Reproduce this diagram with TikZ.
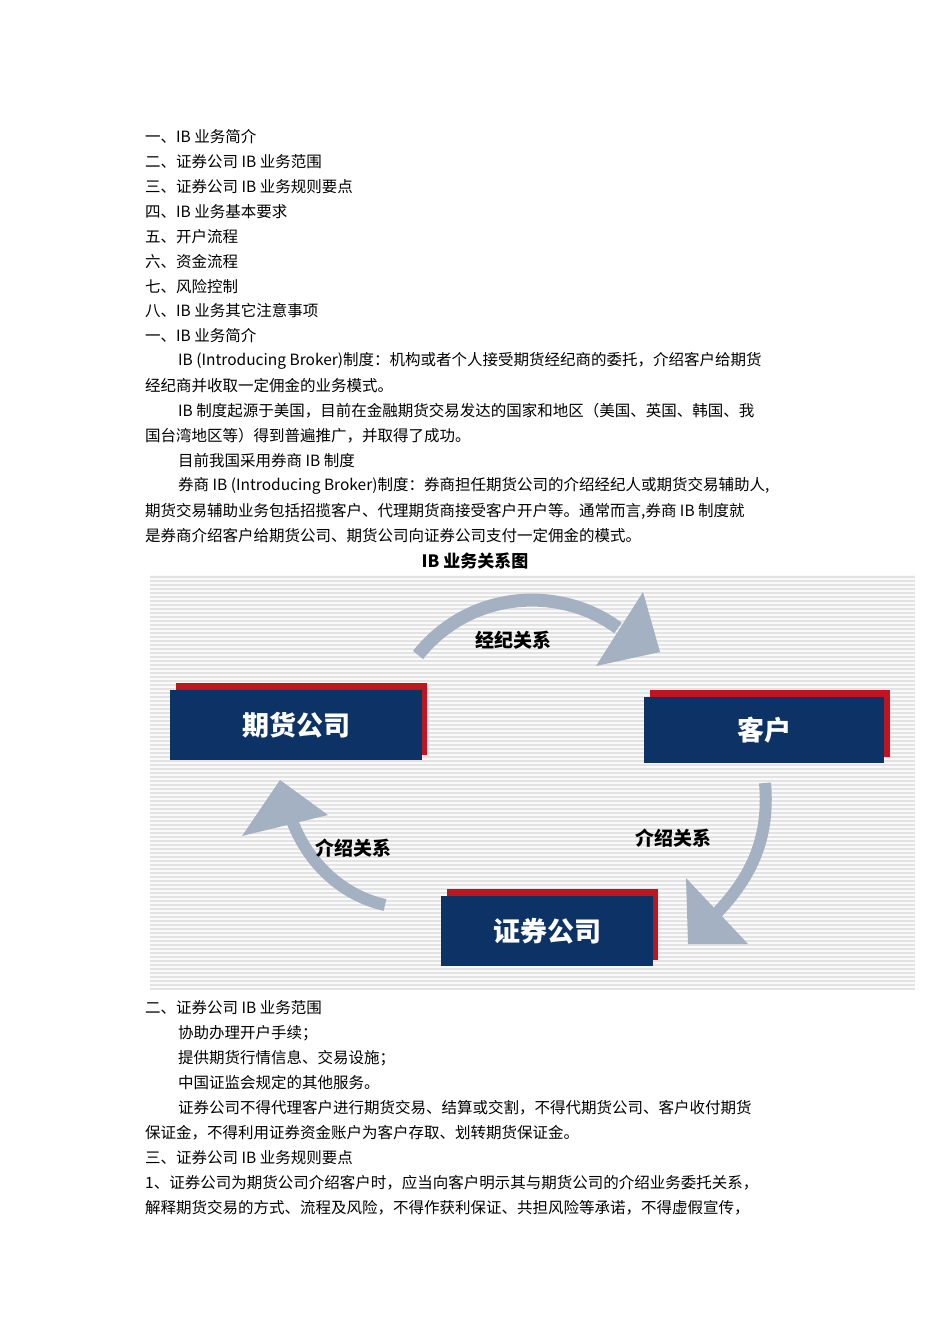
\documentclass[tikz,border=0pt]{standalone}
\usepackage{fontspec}
\setmainfont{Noto Sans CJK SC}
\newfontfamily\cjkb{Noto Sans CJK SC}[BoldFont=* Bold]
\definecolor{navy}{HTML}{0D3366}
\definecolor{rd}{HTML}{C0141E}
\definecolor{arr}{HTML}{A3B1C2}
\begin{document}
\begin{tikzpicture}[x=1pt,y=-1pt,
  ln/.style={anchor=west,inner sep=0pt,font=\fontsize{15.5}{16}\selectfont},
  box/.style={fill=navy,inner sep=0pt},
  lab/.style={font=\fontsize{19}{20}\selectfont\bfseries},
  blab/.style={font=\fontsize{27}{28}\selectfont\bfseries,text=white}]
\useasboundingbox (0,0) rectangle (950,1344);
\fill[white] (0,0) rectangle (950,1344);
% text top
\foreach \y/\x/\t in {137/145/{一、IB 业务简介},162/145/{二、证券公司 IB 业务范围},187/145/{三、证券公司 IB 业务规则要点},212/145/{四、IB 业务基本要求},237/145/{五、开户流程},262/145/{六、资金流程},287/145/{七、风险控制},311/145/{八、IB 业务其它注意事项},336/145/{一、IB 业务简介},361/178/{IB (Introducing Broker)制度：机构或者个人接受期货经纪商的委托，介绍客户给期货},386/145/{经纪商并收取一定佣金的业务模式。},411/178/{IB 制度起源于美国，目前在金融期货交易发达的国家和地区（美国、英国、韩国、我},436/145/{国台湾地区等）得到普遍推广，并取得了成功。},461/178/{目前我国采用券商 IB 制度},486/178/{券商 IB (Introducing Broker)制度：券商担任期货公司的介绍经纪人或期货交易辅助人,},511/145/{期货交易辅助业务包括招揽客户、代理期货商接受客户开户等。通常而言,券商 IB 制度就},536/145/{是券商介绍客户给期货公司、期货公司向证券公司支付一定佣金的模式。},1008/145/{二、证券公司 IB 业务范围},1033/178/{协助办理开户手续；},1058/178/{提供期货行情信息、交易设施；},1083/178/{中国证监会规定的其他服务。},1108/178/{证券公司不得代理客户进行期货交易、结算或交割，不得代期货公司、客户收付期货},1133/145/{保证金，不得利用证券资金账户为客户存取、划转期货保证金。},1158/145/{三、证券公司 IB 业务规则要点},1183/145/{1、证券公司为期货公司介绍客户时，应当向客户明示其与期货公司的介绍业务委托关系，},1208/145/{解释期货交易的方式、流程及风险，不得作获利保证、共担风险等承诺，不得虚假宣传，}}
  {\node[ln] (t\y) at (\x,\y) {\t};}
\node[font=\fontsize{17}{18}\selectfont\bfseries] (title) at (475,561) {IB 业务关系图};
% striped background
\fill[gray!4] (150,575) rectangle (915,990);
\foreach \k in {0,...,103} {\draw[gray!22,line width=1.2pt] (150,577+\k*4) -- (915,577+\k*4);}
% boxes
\fill[rd] (176,683) rectangle (427,755);
\node[box,minimum width=252,minimum height=70] (qh) at (296,725) {};
\node[blab] at (qh) {期货公司};
\fill[rd] (650,690) rectangle (890,757);
\node[box,minimum width=240,minimum height=66] (kh) at (764,730) {};
\node[blab] at (kh) {客户};
\fill[rd] (447,889) rectangle (658,960);
\node[box,minimum width=212,minimum height=70] (zq) at (547,931) {};
\node[blab] at (zq) {证券公司};
% arrows
\draw[arr,line width=13pt] (418,655) .. controls (470,590) and (560,585) .. (618,628);
\fill[arr] (643,592) -- (660,652) -- (596,666) -- cycle;
\draw[arr,line width=12pt] (765,783) .. controls (770,840) and (750,880) .. (712,918);
\fill[arr] (686,878) -- (748,944) -- (688,944) -- cycle;
\draw[arr,line width=12pt] (385,905) .. controls (340,895) and (305,860) .. (290,815);
\fill[arr] (280,780) -- (242,836) -- (328,815) -- cycle;
\node[lab] (l1) at (513,640) {经纪关系};
\node[lab] (l2) at (673,838) {介绍关系};
\node[lab] (l3) at (353,848) {介绍关系};
\end{tikzpicture}
\end{document}
